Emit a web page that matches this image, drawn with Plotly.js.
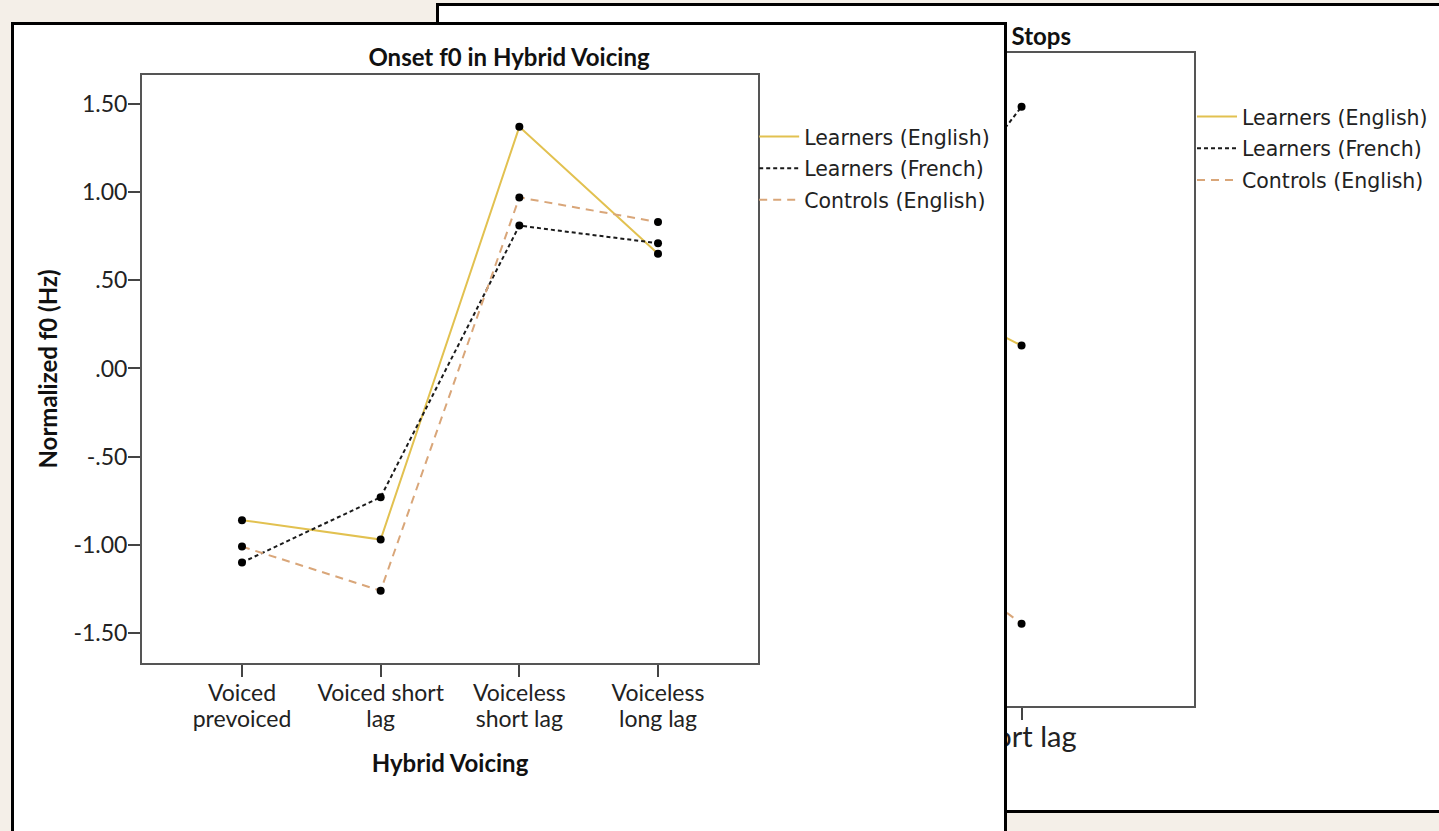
<!DOCTYPE html>
<html><head><meta charset="utf-8">
<script src="https://cdn.plot.ly/plotly-3.0.1.min.js"></script>
<style>
html,body{margin:0;padding:0;width:1439px;height:831px;overflow:hidden;background:#f4efe8;}
#backPanel{position:absolute;left:436px;top:3px;width:1016px;height:810px;box-sizing:border-box;border:3px solid #000;background:#fff;}
#frontPanel{position:absolute;left:11px;top:22px;width:996px;height:830px;box-sizing:border-box;border:3px solid #000;background:#fff;}
#back,#front{position:absolute;left:0;top:0;}
</style></head><body>
<div id="backPanel"><div id="back"></div></div>
<div id="frontPanel"><div id="front"></div></div>
<script>
// ---- Front chart data: Onset f0 in Hybrid Voicing ----
const categories = ['Voiced<br>prevoiced', 'Voiced short<br>lag', 'Voiceless<br>short lag', 'Voiceless<br>long lag'];
const learnersEnglish = [-0.86, -0.97, 1.37, 0.65];
const learnersFrench  = [-1.10, -0.73, 0.81, 0.71];
const controlsEnglish = [-1.01, -1.26, 0.97, 0.83];
const seriesNames = ['Learners (English)', 'Learners (French)', 'Controls (English)'];
const yTickVals = [-1.5, -1.0, -0.5, 0, 0.5, 1.0, 1.5];
const yTickText = ['-1.50', '-1.00', '-.50', '.00', '.50', '1.00', '1.50'];

// ---- Back chart data (partly hidden): Onset f0 in ... Stops ----
const backCategories = ['prevoiced', 'short lag'];
const backLearnersEnglish = [0.80, 0.17];
const backLearnersFrench  = [-0.19, 1.39];
const backControlsEnglish = [-0.34, -1.25];

const colors = ['#e2c150', '#1a1a1a', '#d9a679'];
const dashes = ['solid', '4px,3px', '8px,6px'];

function buildTraces(cats, series) {
  const traces = [];
  series.forEach((vals, i) => {
    traces.push({
      x: cats, y: vals, type: 'scatter', mode: 'lines', name: seriesNames[i],
      legendgroup: 'g' + i,
      line: {color: colors[i], width: 2, dash: dashes[i]},
      showlegend: true, hoverinfo: 'skip'
    });
  });
  series.forEach((vals, i) => {
    traces.push({
      x: cats, y: vals, type: 'scatter', mode: 'markers', name: seriesNames[i],
      legendgroup: 'g' + i,
      marker: {color: '#000', size: 8}, showlegend: false, hoverinfo: 'skip'
    });
  });
  return traces;
}

// multi-line tick labels: keep 26px line spacing (base size 20) with larger glyphs
function bigLabel(c, px) {
  return c.split('<br>').map(s => '<span style="font-size:' + px + 'px">' + s + '</span>').join('<br>');
}

const titleFont = {family: 'Lato, sans-serif', size: 24, color: '#111'};
const axisCommon = {
  showline: true, linecolor: '#555', linewidth: 2, mirror: true,
  ticks: 'outside', ticklen: 12, tickwidth: 2, tickcolor: '#444',
  showgrid: false, zeroline: false
};
const legendCommon = {
  font: {family: 'DejaVu Sans, sans-serif', size: 20.5, color: '#222'},
  bgcolor: 'rgba(0,0,0,0)', xanchor: 'left', yanchor: 'top', itemwidth: 40,
  traceorder: 'grouped', tracegroupgap: 2
};

// Front chart
const frontLayout = {
  width: 990, height: 824,
  margin: {l: 128, r: 246, t: 50, b: 186, autoexpand: false},
  paper_bgcolor: '#fff', plot_bgcolor: '#fff',
  title: {text: '<b>Onset f0 in Hybrid Voicing</b>', font: titleFont,
          xref: 'container', yref: 'container', x: 0.5, xanchor: 'center', y: 0.961, yanchor: 'middle'},
  xaxis: Object.assign({}, axisCommon, {
    type: 'category', range: [-0.721, 3.721],
    tickvals: categories, ticktext: categories.map(c => bigLabel(c, 23)),
    tickfont: {family: 'Lato, sans-serif', size: 20, color: '#222'},
    title: {text: '<b>Hybrid Voicing</b>', font: titleFont, standoff: 24}
  }),
  yaxis: Object.assign({}, axisCommon, {
    range: [-1.670, 1.664], tickvals: yTickVals, ticktext: yTickText,
    tickfont: {family: 'Lato, sans-serif', size: 23, color: '#222'},
    ticklabelstandoff: -4,
    title: {text: '<b>Normalized f0 (Hz)</b>', font: titleFont, standoff: 9}
  }),
  legend: Object.assign({}, legendCommon, {x: 0.9938, y: 0.929}),
  showlegend: true
};
Plotly.newPlot('front', buildTraces(categories, [learnersEnglish, learnersFrench, controlsEnglish]), frontLayout, {displayModeBar: false, staticPlot: true});

// Back chart
const backLayout = {
  width: 1010, height: 804,
  margin: {l: 171, r: 255, t: 47, b: 104, autoexpand: false},
  paper_bgcolor: '#fff', plot_bgcolor: '#fff',
  title: {text: '<b>Onset f0 in Voiced Stops</b>', font: titleFont,
          xref: 'container', yref: 'container', x: (1071 - 439) / 1010, xanchor: 'right', y: 1 - 31 / 804, yanchor: 'middle'},
  xaxis: Object.assign({}, axisCommon, {
    type: 'category', range: [-0.721, 1.721],
    tickfont: {family: 'Lato, sans-serif', size: 29, color: '#222'},
    ticklabelstandoff: -8
  }),
  yaxis: Object.assign({}, axisCommon, {
    range: [-1.670, 1.664], tickvals: yTickVals, showticklabels: false
  }),
  legend: Object.assign({}, legendCommon, {x: 0.9966, y: 0.933}),
  showlegend: true
};
Plotly.newPlot('back', buildTraces(backCategories, [backLearnersEnglish, backLearnersFrench, backControlsEnglish]), backLayout, {displayModeBar: false, staticPlot: true});
</script>
</body></html>
